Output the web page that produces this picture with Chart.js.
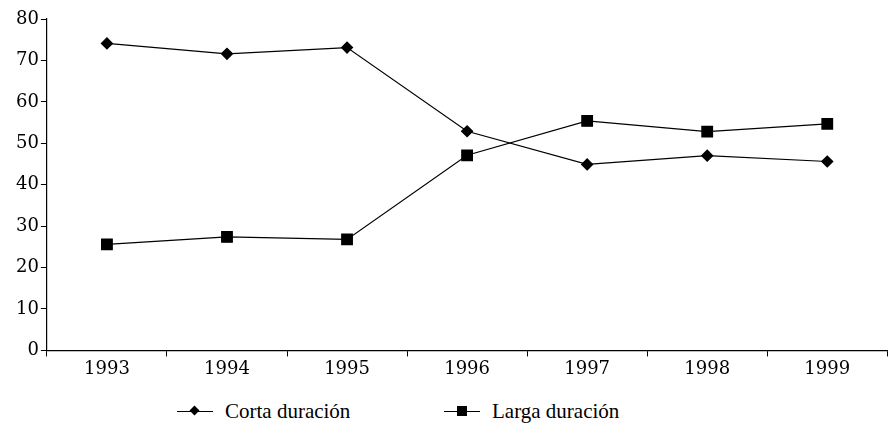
<!DOCTYPE html>
<html>
<head>
<meta charset="utf-8">
<script src="https://cdn.jsdelivr.net/npm/chart.js@4.4.0/dist/chart.umd.min.js"></script>
<style>
  html, body { margin: 0; padding: 0; background: #fff; }
  #wrap { position: relative; width: 896px; height: 429px; }
  #box { position: absolute; left: 0; top: 0; width: 896px; height: 385px; }
  .legend { position: absolute; top: 399px; font-family: "Liberation Serif", serif; font-size: 21px; color: #000; display: flex; align-items: center; }
  .sym { position: relative; width: 36px; height: 2px; margin-right: 12px; }
  .sym .ln { position: absolute; left: 0; right: 0; top: 0; height: 1.4px; background: #000; }
  .sym .dia { position: absolute; left: 14px; top: -4px; width: 7px; height: 7px; background: #000; transform: rotate(45deg); }
  .sym .sq { position: absolute; left: 13px; top: -5px; width: 10px; height: 10px; background: #000; }
</style>
</head>
<body>
<div id="wrap">
  <div id="box"><canvas id="mainChart"></canvas></div>
  <div class="legend" style="left:177px;"><div class="sym"><div class="ln"></div><div class="dia"></div></div>Corta duración</div>
  <div class="legend" style="left:444px;"><div class="sym"><div class="ln"></div><div class="sq"></div></div>Larga duración</div>
</div>
<script>
const years = ['1993', '1994', '1995', '1996', '1997', '1998', '1999'];
const corta = [74.1, 71.6, 73.1, 52.9, 44.9, 47.0, 45.6];
const larga = [25.6, 27.4, 26.8, 47.1, 55.4, 52.8, 54.7];
const yTicks = [0, 10, 20, 30, 40, 50, 60, 70, 80];

const tickFont = { family: '"DejaVu Serif", serif', size: 18 };

new Chart(document.getElementById('mainChart'), {
  type: 'line',
  data: {
    labels: years,
    datasets: [
      {
        label: 'Corta duración',
        data: corta,
        borderColor: '#000',
        backgroundColor: '#000',
        borderWidth: 1.2,
        pointStyle: 'rectRot',
        pointRadius: 5.5,
        pointHoverRadius: 5.5,
        tension: 0,
      },
      {
        label: 'Larga duración',
        data: larga,
        borderColor: '#000',
        backgroundColor: '#000',
        borderWidth: 1.2,
        pointStyle: 'rect',
        pointRadius: 7.5,
        pointHoverRadius: 7.5,
        tension: 0,
      },
    ],
  },
  options: {
    responsive: true,
    maintainAspectRatio: false,
    animation: false,
    events: [],
    layout: { padding: { top: 19, right: 1, left: 14, bottom: 3 } },
    plugins: {
      legend: { display: false },
      tooltip: { enabled: false },
    },
    scales: {
      x: {
        offset: true,
        grid: { offset: true, drawOnChartArea: false, color: '#000', tickLength: 6, tickColor: '#000' },
        border: { color: '#000', width: 1.2 },
        ticks: { color: '#000', font: tickFont, padding: 2, maxRotation: 0 },
      },
      y: {
        min: 0,
        max: 80,
        afterBuildTicks: axis => { axis.ticks = yTicks.map(v => ({ value: v })); },
        grid: { drawOnChartArea: false, color: '#000', tickLength: 6, tickColor: '#000' },
        border: { color: '#000', width: 1.2 },
        ticks: { color: '#000', font: tickFont, padding: 2 },
      },
    },
  },
});
</script>
</body>
</html>
